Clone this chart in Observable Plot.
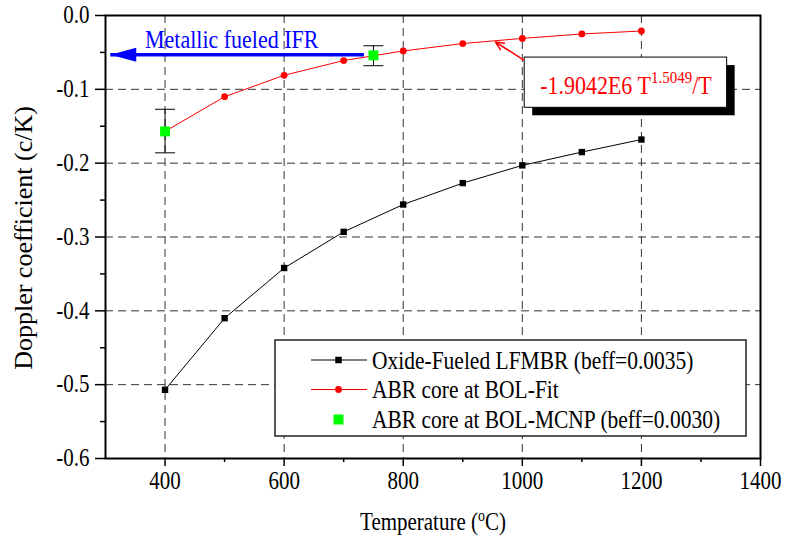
<!DOCTYPE html>
<html>
<head>
<meta charset="utf-8">
<script src="https://cdn.jsdelivr.net/npm/d3@7"></script>
<script src="https://cdn.jsdelivr.net/npm/@observablehq/plot@0.6"></script>
<style>
  body { margin: 0; background: #fff; }
  #chart svg { display: block; }
</style>
</head>
<body>
<div id="chart"></div>
<script>
// Doppler coefficient versus fuel temperature
const temperatures = [400, 500, 600, 700, 800, 900, 1000, 1100, 1200];
const oxideLFMBR = [-0.507, -0.410, -0.342, -0.293, -0.256, -0.227, -0.203, -0.185, -0.168];
const abrFit = [-0.157, -0.110, -0.081, -0.061, -0.048, -0.038, -0.031, -0.025, -0.021];

// MCNP points with their uncertainty bands
const mcnpTemperatures = [400, 750];
const mcnpValues = [-0.157, -0.054];
const mcnpLower = [-0.186, -0.068];
const mcnpUpper = [-0.127, -0.041];

// Axis ticks
const xMajorTicks = [400, 600, 800, 1000, 1200, 1400];
const xMinorTicks = [500, 700, 900, 1100, 1300];
const yMajorTicks = [0, -0.1, -0.2, -0.3, -0.4, -0.5, -0.6];
const yMinorTicks = [-0.05, -0.15, -0.25, -0.35, -0.45, -0.55];
const xGrid = [400, 600, 800, 1000, 1200];
const yGrid = [-0.1, -0.2, -0.3, -0.4, -0.5];

const seriesNames = [
  "Oxide-Fueled LFMBR (beff=0.0035)",
  "ABR core at BOL-Fit",
  "ABR core at BOL-MCNP (beff=0.0030)"
];
const ifrLabel = "Metallic fueled IFR";
const fitFormula = "-1.9042E6 T^1.5049^/T";

// Annotation anchors, in data units
const ifrArrow = {x1: 734, x2: 308, y: -0.053};
const ifrText = {x: 512, y: -0.0425};
const fitBox = {x1: 1004, x2: 1344, y1: -0.057, y2: -0.125};
const fitText = {x: 1174, y: -0.104};
const fitArrow = {x1: 1002, y1: -0.060, x2: 955, y2: -0.036};

const oxideRows = temperatures.map((t, i) => ({t, v: oxideLFMBR[i]}));
const fitRows = temperatures.map((t, i) => ({t, v: abrFit[i]}));
const mcnpRows = mcnpTemperatures.map((t, i) => ({t, v: mcnpValues[i], lo: mcnpLower[i], hi: mcnpUpper[i]}));

const FONT = "'Liberation Serif', 'Times New Roman', serif";
const TEXT_STRETCH = 1.15; // tall, narrow lettering

// Filled arrowhead whose tip sits on the anchor point, pointing left
const leftHead = {draw(ctx) { ctx.moveTo(0, 0); ctx.lineTo(26, -7); ctx.lineTo(26, 7); ctx.closePath(); }};
// Horizontal error-bar cap
const capSymbol = {draw(ctx) { ctx.moveTo(-10, 0); ctx.lineTo(10, 0); }};

// Write "a^b^c" with b raised as a superscript
function richText(el, str, size, supSize, rise) {
  const t = d3.select(el);
  t.text(null);
  let raised = false;
  str.split("^").forEach((part, i) => {
    const sup = i % 2 === 1;
    if (part) {
      const s = t.append("tspan").text(part).attr("font-size", sup ? supSize : size);
      if (sup && !raised) { s.attr("dy", -rise); raised = true; }
      else if (!sup && raised) { s.attr("dy", rise); raised = false; }
    }
  });
}
function richRender(size, supSize, rise) {
  return (index, scales, values, dims, ctx, next) => {
    const g = next(index, scales, values, dims, ctx);
    d3.select(g).selectAll("text").each(function () {
      richText(this, this.textContent, size, supSize, rise);
    });
    return g;
  };
}

const plot = Plot.plot({
  width: 790,
  height: 538,
  marginLeft: 105,
  marginRight: 30,
  marginTop: 15,
  marginBottom: 80,
  style: {fontFamily: FONT, fontSize: "21px", color: "black", background: "white"},
  x: {domain: [300, 1400]},
  y: {domain: [-0.6, 0]},
  marks: [
    // dashed grid
    Plot.ruleX(xGrid, {stroke: "#333", strokeWidth: 1, strokeDasharray: "8,5"}),
    Plot.ruleY(yGrid, {stroke: "#333", strokeWidth: 1, strokeDasharray: "8,5"}),

    // axes
    Plot.axisX({ticks: xMajorTicks, tickSize: 8, tickPadding: 7, tickFormat: d => String(d), label: null, strokeWidth: 1.5, fontSize: 21}),
    Plot.axisX({ticks: xMinorTicks, tickSize: 4, tickFormat: () => "", label: null, strokeWidth: 1.5}),
    Plot.axisY({ticks: yMajorTicks, tickSize: 10, tickPadding: 6, tickFormat: d => d === 0 ? "0.0" : d.toFixed(1), label: null, strokeWidth: 1.5, fontSize: 21}),
    Plot.axisY({ticks: yMinorTicks, tickSize: 5, tickFormat: () => "", label: null, strokeWidth: 1.5}),
    Plot.frame({stroke: "black", strokeWidth: 2}),

    // oxide-fuelled series
    Plot.line(oxideRows, {x: "t", y: "v", stroke: "black", strokeWidth: 1}),
    Plot.dot(oxideRows, {x: "t", y: "v", symbol: "square", r: 3.6, fill: "black", stroke: null}),

    // fitted ABR curve
    Plot.line(fitRows, {x: "t", y: "v", stroke: "#ff0000", strokeWidth: 1}),
    Plot.dot(fitRows, {x: "t", y: "v", r: 3.4, fill: "#ff0000", stroke: null}),

    // MCNP points with error bars
    Plot.ruleX(mcnpRows, {x: "t", y1: "lo", y2: "hi", stroke: "black", strokeWidth: 1}),
    Plot.dot(mcnpRows, {x: "t", y: "lo", symbol: capSymbol, stroke: "black", strokeWidth: 1, fill: null}),
    Plot.dot(mcnpRows, {x: "t", y: "hi", symbol: capSymbol, stroke: "black", strokeWidth: 1, fill: null}),
    Plot.dot(mcnpRows, {x: "t", y: "v", symbol: "square", r: 5.6, fill: "#00ff00", stroke: null}),

    // metallic IFR arrow
    Plot.link([ifrArrow], {x1: "x1", x2: "x2", y1: "y", y2: "y", stroke: "#0000ff", strokeWidth: 3.5}),
    Plot.dot([ifrArrow], {x: "x2", y: "y", symbol: leftHead, fill: "#0000ff", stroke: null}),
    Plot.text([ifrText], {x: "x", y: "y", text: () => ifrLabel, fill: "#0000ff", fontSize: 22, lineAnchor: "bottom"}),

    // fit formula callout
    Plot.rect([fitBox], {x1: "x1", x2: "x2", y1: "y1", y2: "y2", fill: "black", dx: 8, dy: 8}),
    Plot.rect([fitBox], {x1: "x1", x2: "x2", y1: "y1", y2: "y2", fill: "white", stroke: "black", strokeWidth: 1}),
    Plot.text([fitText], {x: "x", y: "y", text: () => fitFormula, fill: "#ff0000", fontSize: 22, lineAnchor: "bottom",
      render: richRender(22, 15, 9)}),
    Plot.arrow([fitArrow], {x1: "x1", y1: "y1", x2: "x2", y2: "y2", stroke: "#ff0000", strokeWidth: 1.5, headLength: 9, headAngle: 50})
  ]
});

document.getElementById("chart").append(plot);
const svg = d3.select(plot);

// axis titles
const xTitle = svg.append("text")
  .attr("x", 433).attr("y", 529)
  .attr("text-anchor", "middle")
  .attr("fill", "black");
richText(xTitle.node(), "Temperature (^o^C)", 21, 14, 8);

// legend
const lg = svg.append("g").attr("font-size", 21.5).attr("fill", "black").attr("text-anchor", "start");
lg.append("rect").attr("x", 275).attr("y", 340).attr("width", 471).attr("height", 96)
  .attr("fill", "white").attr("stroke", "#222").attr("stroke-width", 1.5);
const rowsY = [360, 389.5, 419.5];
const sample = [
  {stroke: "black", kind: "square", fill: "black", size: 6.5},
  {stroke: "#ff0000", kind: "circle", fill: "#ff0000", size: 3.4},
  {stroke: null, kind: "square", fill: "#00ff00", size: 10}
];
seriesNames.forEach((name, i) => {
  const y = rowsY[i], s = sample[i];
  if (s.stroke) {
    lg.append("line").attr("x1", 311).attr("x2", 367).attr("y1", y).attr("y2", y)
      .attr("stroke", s.stroke).attr("stroke-width", 1);
  }
  if (s.kind === "square") {
    lg.append("rect").attr("x", 338.5 - s.size / 2).attr("y", y - s.size / 2)
      .attr("width", s.size).attr("height", s.size).attr("fill", s.fill);
  } else {
    lg.append("circle").attr("cx", 338.5).attr("cy", y).attr("r", s.size).attr("fill", s.fill);
  }
  lg.append("text").attr("x", 372).attr("y", y + 7.5).text(name);
});

// stretch horizontal lettering vertically about its own centre
svg.selectAll("text").each(function () {
  const b = this.getBBox();
  if (!b.height) return;
  const cy = b.y + b.height / 2;
  const prev = this.getAttribute("transform") || "";
  this.setAttribute("transform", `${prev} translate(0,${cy}) scale(1,${TEXT_STRETCH}) translate(0,${-cy})`);
});

// y title is added after the stretch: its length already fits
svg.append("text")
  .attr("transform", "translate(32,238) rotate(-90)")
  .attr("text-anchor", "middle")
  .attr("font-size", 26)
  .attr("fill", "black")
  .text("Doppler coefficient (c/K)");
</script>
</body>
</html>
